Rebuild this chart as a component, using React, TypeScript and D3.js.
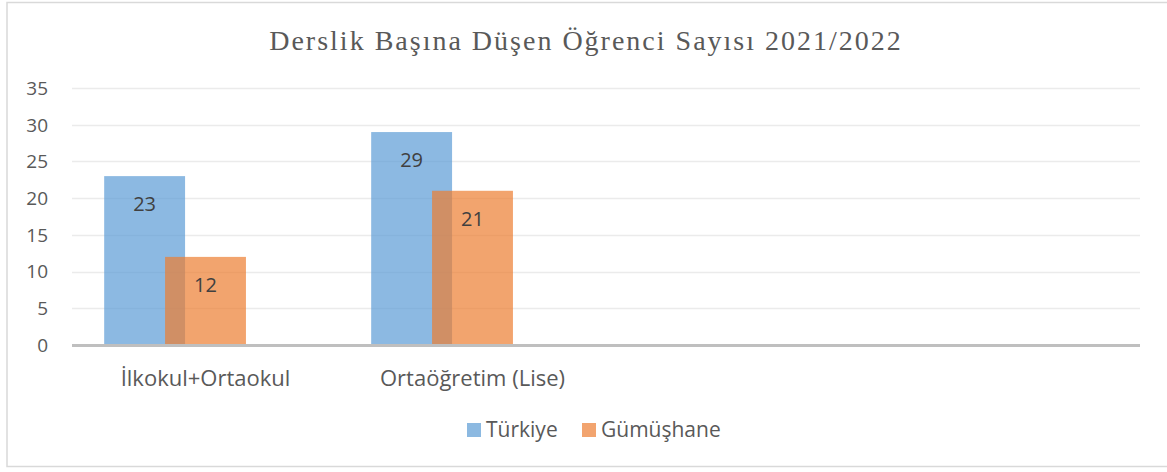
import React from "react";
import * as d3 from "d3";

const categories = ["İlkokul+Ortaokul", "Ortaöğretim (Lise)", "", " "];
const seriesNames = ["Türkiye", "Gümüşhane"];
const turkiye = [23, 29];
const gumushane = [12, 21];
const yTicks = [0, 5, 10, 15, 20, 25, 30, 35];
const title = "Derslik Başına Düşen Öğrenci Sayısı 2021/2022";

const W = 1167;
const H = 472;
const colors = ["rgba(91,155,213,0.7)", "rgba(237,125,49,0.7)"];
const legendColors = ["#8cb9e1", "#f2a46f"];
const textColor = "#595959";
const sans = "'Open Sans', sans-serif";

export default function App() {
  const left = 72, right = 1140, top = 88, bottom = 345;
  const x = d3.scaleBand<string>().domain(categories).range([left, right]).paddingInner(0).paddingOuter(0);
  const y = d3.scaleLinear().domain([0, 35]).range([bottom, top]);
  const bw = x.bandwidth();
  const barW = bw * 0.303;
  const step = barW - bw * 0.075;
  const groupW = barW + step * 2;
  const series = [turkiye, gumushane];

  return (
    <svg width={W} height={H} style={{ position: "absolute", left: 0, top: 0 }}>
      <rect x={0} y={0} width={W} height={H} fill="#fff" />
      <rect x={7} y={2.5} width={W + 5} height={464} fill="#fff" stroke="#d9d9d9" strokeWidth={1.5} />
      <text x={586} y={50} textAnchor="middle" fontFamily="'Liberation Serif', 'Times New Roman', serif" fontSize={28} letterSpacing={2} fill={textColor}>
        {title}
      </text>
      {yTicks.map((t) => (
        <g key={t}>
          {t > 0 && <line x1={left} x2={right} y1={Math.round(y(t)) + 0.5} y2={Math.round(y(t)) + 0.5} stroke="#ebebeb" strokeWidth={1.5} />}
          <text x={48} y={y(t)} dy="0.36em" textAnchor="end" fontFamily={sans} fontSize={19} fill={textColor}>
            {t}
          </text>
        </g>
      ))}
      {series.map((vals, si) =>
        vals.map((v, ci) => {
          const cx = (x(categories[ci]) as number) + bw / 2;
          const bx = cx - groupW / 2 + si * step;
          return (
            <rect key={`${si}-${ci}`} x={bx} y={y(v)} width={barW} height={bottom - y(v)} fill={colors[si]} />
          );
        })
      )}
      {series.map((vals, si) =>
        vals.map((v, ci) => {
          const cx = (x(categories[ci]) as number) + bw / 2;
          const bx = cx - groupW / 2 + si * step;
          return (
            <text key={`l${si}-${ci}`} x={bx + barW / 2} y={y(v) + 35} textAnchor="middle" fontFamily={sans} fontSize={20} fill="#404040">
              {v}
            </text>
          );
        })
      )}
      <line x1={left} x2={right} y1={345.5} y2={345.5} stroke="#bfbfbf" strokeWidth={3} />
      {categories.map((c) => (
        <text key={c} x={(x(c) as number) + bw / 2} y={386} textAnchor="middle" fontFamily={sans} fontSize={22} fill={textColor}>
          {c}
        </text>
      ))}
      {seriesNames.map((s, i) => {
        const lx = [467, 582][i];
        return (
          <g key={s}>
            <rect x={lx} y={423} width={14} height={14} fill={legendColors[i]} />
            <text x={lx + 19} y={437} fontFamily={sans} fontSize={21} fill={textColor}>
              {s}
            </text>
          </g>
        );
      })}
    </svg>
  );
}
